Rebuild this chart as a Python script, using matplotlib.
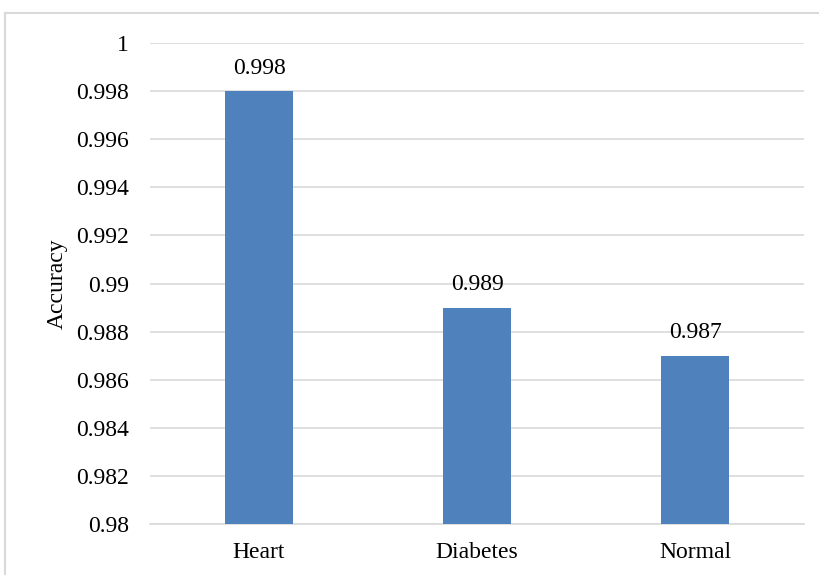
import matplotlib
matplotlib.use("Agg")
import matplotlib.pyplot as plt
from matplotlib.lines import Line2D

categories = ["Heart", "Diabetes", "Normal"]
accuracy = [0.998, 0.989, 0.987]
y_ticks = [0.98, 0.982, 0.984, 0.986, 0.988, 0.99, 0.992, 0.994, 0.996, 0.998, 1]
y_tick_labels = ["0.98", "0.982", "0.984", "0.986", "0.988", "0.99",
                 "0.992", "0.994", "0.996", "0.998", "1"]

plt.rcParams["font.family"] = ["Liberation Serif", "DejaVu Serif"]
FS = 17

fig = plt.figure(figsize=(8.19, 5.75), dpi=100)
ax = fig.add_axes([0.1832, 0.0887, 0.7985, 0.8365])

x = range(len(categories))
ax.bar(x, accuracy, width=0.31, color="#4f81bd", zorder=3)

ax.set_xlim(-0.5, len(categories) - 0.5)
ax.set_ylim(0.98, 1.0)
ax.set_yticks(y_ticks)
ax.set_yticklabels(y_tick_labels)
ax.set_xticks(list(x))
ax.set_xticklabels(categories)
ax.tick_params(axis="y", length=0, pad=15, labelsize=FS)
ax.tick_params(axis="x", length=0, pad=13, labelsize=FS)
ax.grid(axis="y", color="#d9d9d9", linewidth=1.2, zorder=0)
for side in ("top", "right", "left"):
    ax.spines[side].set_visible(False)
ax.spines["bottom"].set_color("#d9d9d9")
ax.spines["bottom"].set_linewidth(1.2)

ax.set_ylabel("Accuracy", fontsize=FS, labelpad=6)

for xi, v in zip(x, accuracy):
    ax.annotate(f"{v:.3f}", (xi, v), xytext=(0, 9), textcoords="offset points",
                ha="center", va="bottom", fontsize=FS)

# chart frame
fy = 1 - 13 / 575
fx = 5 / 819
fig.add_artist(Line2D([fx, 1], [fy, fy], transform=fig.transFigure,
                      color="#d9d9d9", linewidth=1.5))
fig.add_artist(Line2D([fx, fx], [0, fy], transform=fig.transFigure,
                      color="#d9d9d9", linewidth=1.5))

fig.savefig("out.png", dpi=100)
